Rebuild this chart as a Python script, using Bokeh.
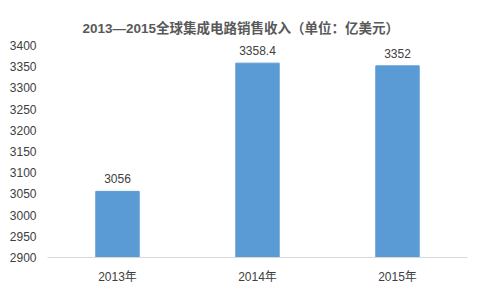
from bokeh.plotting import figure
from bokeh.models import ColumnDataSource, LabelSet, FixedTicker
from bokeh.core.properties import value
from bokeh.embed import file_html
from bokeh.resources import INLINE

years = ["2013年", "2014年", "2015年"]
revenue = [3056, 3358.4, 3352]
value_labels = ["3056", "3358.4", "3352"]
y_ticks = [2900, 2950, 3000, 3050, 3100, 3150, 3200, 3250, 3300, 3350, 3400]

FONT = "Liberation Sans, Noto Sans CJK SC"
src = ColumnDataSource(dict(x=years, top=revenue, lab=value_labels))

p = figure(width=482, height=290, x_range=years, y_range=(2900, 3400),
           output_backend="svg", toolbar_location=None,
           min_border_left=47, min_border_right=15, min_border_top=45, min_border_bottom=33)
p.title.text = "2013—2015全球集成电路销售收入（单位：亿美元）"
p.title.align = "left"
p.title.text_font = FONT
p.title.text_font_size = "13.5px"
p.title.text_font_style = "bold"
p.title.text_color = "#595959"
p.title.offset = 35
p.title.standoff = 19

p.vbar(x="x", top="top", bottom=2900, width=0.31, source=src, color="#5B9BD5")
p.add_layout(LabelSet(x="x", y="top", text="lab", source=src, text_align="center",
                      text_baseline="bottom", y_offset=8, text_font_size=value("12px"),
                      text_color=value("#404040"), text_font=value(FONT)))

p.xgrid.grid_line_color = None
p.ygrid.grid_line_color = None
p.outline_line_color = None

p.yaxis.ticker = FixedTicker(ticks=y_ticks)
p.yaxis.axis_line_color = None
p.yaxis.major_tick_line_color = None
p.yaxis.minor_tick_line_color = None
p.yaxis.major_label_text_font_size = "12px"
p.yaxis.major_label_text_font = FONT
p.yaxis.major_label_text_color = "#404040"
p.yaxis.major_label_standoff = 5

p.xaxis.axis_line_color = "#D9D9D9"
p.xaxis.major_tick_line_color = None
p.xaxis.minor_tick_line_color = None
p.xaxis.major_label_text_font_size = "12px"
p.xaxis.major_label_text_font = FONT
p.xaxis.major_label_text_color = "#404040"
p.xaxis.major_label_standoff = 6

open("out.html", "w").write(file_html(p, INLINE))
